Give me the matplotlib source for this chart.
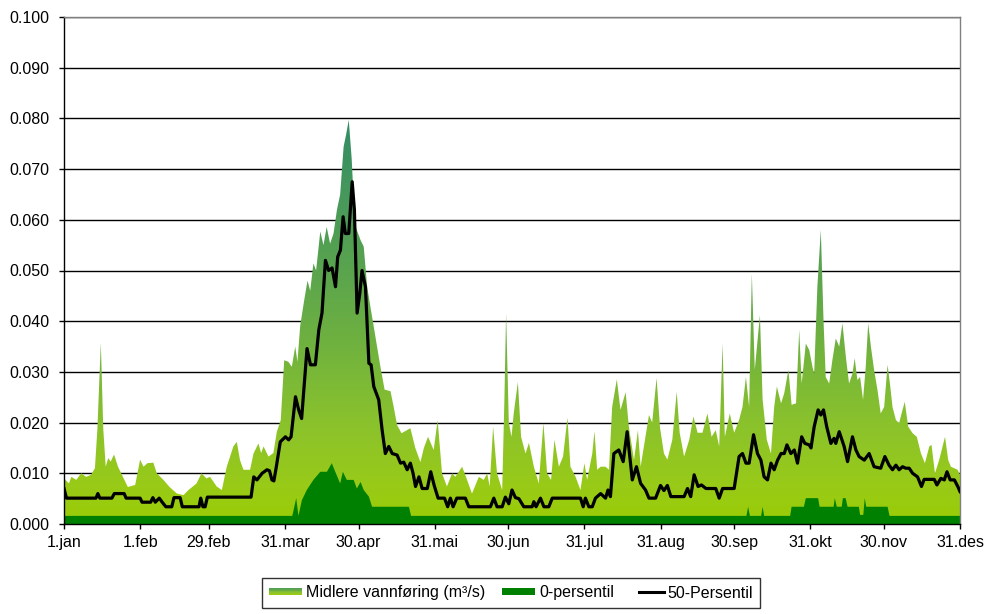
import numpy as np
import matplotlib
matplotlib.use("Agg")
import matplotlib.pyplot as plt
from matplotlib.colors import LinearSegmentedColormap
from matplotlib.legend_handler import HandlerBase
from matplotlib.patches import Rectangle, Patch
from matplotlib.lines import Line2D

plt.rcParams['font.family'] = ['Liberation Sans', 'DejaVu Sans']

# ---------------- data ----------------
tick_days = [0, 31, 59, 90, 120, 151, 181, 212, 243, 273, 304, 334, 365]
tick_labels = ["1.jan", "1.feb", "29.feb", "31.mar", "30.apr", "31.mai", "30.jun",
               "31.jul", "31.aug", "30.sep", "31.okt", "30.nov", "31.des"]

max_days = [0, 2, 3, 5, 7, 9, 11, 12.6, 13.6, 15, 16, 17, 18, 19, 20.4, 22, 24, 26, 29, 31,
            32.4, 34, 36.4, 37.8, 40.5, 43, 46, 48.7, 50.7, 54, 56, 58, 59.5, 62.2, 64.3, 66.3,
            69, 70.4, 71.7, 73.1, 75.8, 77.2, 79.2, 80.3, 81.3, 83.3, 85.3, 86.7, 88.3, 89.7,
            91.4, 92.8, 94.2, 95.1, 96.2, 97.8, 99.2, 100.3, 101.6, 102.7, 104.4, 105.7, 107,
            108.4, 109.8, 111.2, 112.5, 113.9, 115, 116, 117.2, 118.5, 120.8, 122.1, 123.5,
            124.8, 126.5, 128.9, 130.6, 133, 134.3, 135.7, 137.5, 139.7, 141.1, 143.1, 145.2,
            146.6, 148.3, 150.6, 152.2, 154, 156, 158.1, 159.4, 162.2, 164.2, 166.2, 169, 171,
            172.4, 173.4, 174.8, 176.4, 178.5, 179.4, 180.1, 181.2, 182.3, 183.2, 184.9, 186.2,
            188, 189.4, 191.4, 193.4, 195.3, 196.8, 198.4, 199.8, 201.6, 203.3, 205.1, 206.3,
            208.4, 210.4, 212, 213.1, 215.2, 216.1, 217.2, 218.6, 220.6, 222, 223.3, 225.2,
            226.7, 228.8, 230.1, 232.2, 233.8, 234.9, 238.3, 239.6, 241.4, 242.8, 244.4, 245.8,
            247.8, 249.6, 250.8, 252.6, 254.7, 256.4, 258.1, 260.1, 262.1, 263.8, 265.5, 266.9,
            268.3, 269.2, 271.2, 273, 275, 276.4, 277.8, 279.1, 280.2, 281.4, 283.5, 284.6,
            286.3, 288, 289.3, 290.4, 292.1, 293.4, 295.1, 296.4, 298.2, 299.5, 300.5, 302.2,
            303.6, 304.9, 305.6, 306.9, 308.3, 309.4, 310.3, 311.7, 313, 314.4, 315.8, 317.1,
            318.5, 319.8, 321.2, 322.1, 323.2, 324.3, 325.5, 326.6, 327.6, 328.7, 330, 331.4,
            332.7, 334.1, 335.5, 336.6, 337.5, 338.9, 340.2, 341.2, 342.5, 343.9, 345.7, 347.4,
            349.1, 350.7, 352.5, 353.4, 354.8, 356.5, 358.9, 360.2, 361.3, 364, 365]
max_vals = [0.0090, 0.0080, 0.0093, 0.0087, 0.0100, 0.0093, 0.0097, 0.0110, 0.0187, 0.0357,
            0.0187, 0.0113, 0.0130, 0.0123, 0.0137, 0.0113, 0.0093, 0.0073, 0.0077, 0.0127,
            0.0113, 0.0120, 0.0121, 0.0100, 0.0087, 0.0073, 0.0060, 0.0057, 0.0067, 0.0080,
            0.0100, 0.0090, 0.0093, 0.0074, 0.0067, 0.0113, 0.0153, 0.0162, 0.0126, 0.0107,
            0.0107, 0.0139, 0.0159, 0.0140, 0.0153, 0.0133, 0.0140, 0.0182, 0.0205, 0.0323,
            0.0320, 0.0310, 0.0350, 0.0320, 0.0390, 0.0440, 0.0480, 0.0460, 0.0514, 0.0500,
            0.0577, 0.0550, 0.0586, 0.0553, 0.0573, 0.0620, 0.0650, 0.0744, 0.0770, 0.0797,
            0.0720, 0.0590, 0.0560, 0.0547, 0.0468, 0.0429, 0.0380, 0.0310, 0.0265, 0.0262,
            0.0231, 0.0195, 0.0179, 0.0185, 0.0189, 0.0150, 0.0122, 0.0150, 0.0172, 0.0146,
            0.0205, 0.0100, 0.0074, 0.0100, 0.0093, 0.0113, 0.0087, 0.0060, 0.0093, 0.0087,
            0.0100, 0.0074, 0.0192, 0.0100, 0.0067, 0.0245, 0.0416, 0.0200, 0.0172, 0.0218,
            0.0280, 0.0172, 0.0139, 0.0160, 0.0113, 0.0080, 0.0199, 0.0100, 0.0087, 0.0166,
            0.0113, 0.0133, 0.0210, 0.0113, 0.0093, 0.0067, 0.0120, 0.0087, 0.0139, 0.0183,
            0.0107, 0.0113, 0.0113, 0.0107, 0.0231, 0.0285, 0.0225, 0.0260, 0.0192, 0.0126,
            0.0185, 0.0113, 0.0215, 0.0200, 0.0288, 0.0190, 0.0139, 0.0127, 0.0166, 0.0261,
            0.0180, 0.0133, 0.0166, 0.0212, 0.0180, 0.0180, 0.0218, 0.0172, 0.0185, 0.0153,
            0.0356, 0.0172, 0.0218, 0.0180, 0.0205, 0.0231, 0.0290, 0.0231, 0.0494, 0.0304,
            0.0412, 0.0245, 0.0166, 0.0139, 0.0231, 0.0271, 0.0238, 0.0258, 0.0304, 0.0235,
            0.0238, 0.0383, 0.0277, 0.0356, 0.0343, 0.0310, 0.0297, 0.0468, 0.0580, 0.0402,
            0.0290, 0.0277, 0.0323, 0.0366, 0.0350, 0.0396, 0.0330, 0.0277, 0.0297, 0.0327,
            0.0284, 0.0290, 0.0245, 0.0310, 0.0396, 0.0350, 0.0304, 0.0264, 0.0218, 0.0231,
            0.0314, 0.0271, 0.0231, 0.0205, 0.0199, 0.0218, 0.0241, 0.0192, 0.0179, 0.0172,
            0.0139, 0.0120, 0.0153, 0.0156, 0.0100, 0.0126, 0.0172, 0.0126, 0.0113, 0.0107,
            0.0097]

p0_days = [0, 93.0, 94.6, 95.5, 96.9, 98.9, 101.6, 104.4, 107.1, 109.1, 110.5, 112.5, 113.6,
           115.2, 118, 119.3, 120.8, 122.1, 124.2, 125.5, 140.5, 141.4, 278, 278.7, 279.4,
           284, 284.6, 285.2, 295.8, 296.4, 301.4, 302.2, 307.2, 307.8, 313.5, 314, 314.8,
           316.8, 317.3, 318.4, 319.2, 323.8, 324.3, 325.6, 326.2, 326.8, 335.5, 336.3, 365]
p0_vals = [0.0016, 0.0016, 0.0051, 0.0016, 0.0047, 0.0067, 0.0087, 0.0103, 0.0103, 0.0120,
           0.0103, 0.0080, 0.0103, 0.0087, 0.0087, 0.0070, 0.0083, 0.0067, 0.0054, 0.0034,
           0.0034, 0.0016, 0.0016, 0.0034, 0.0016, 0.0016, 0.0034, 0.0016, 0.0016, 0.0034,
           0.0034, 0.0051, 0.0051, 0.0034, 0.0034, 0.0051, 0.0034, 0.0034, 0.0051, 0.0051,
           0.0034, 0.0034, 0.0018, 0.0018, 0.0051, 0.0034, 0.0034, 0.0016, 0.0016]

p50_days = [0, 1, 13, 13.8, 14.6, 19.5, 20.5, 24.5, 25.3, 31, 31.8, 35.3, 36.2, 37.2, 38.8, 40,
            41.5, 43.9, 44.8, 47.3, 48.2, 55, 55.7, 56.6, 57.5, 58.4, 76.2, 77.3, 78.6, 80.7,
            82.7, 83.7, 84.7, 85.5, 86.5, 88.1, 90.2, 91.5, 92.5, 94.3, 95.6, 96.8, 99, 100.4,
            102.4, 103.8, 105.1, 106.5, 107.8, 109.2, 110.6, 111.5, 112.6, 113.7, 114.6, 116,
            117.4, 118.3, 119.4, 120.5, 121.4, 122.8, 124.2, 125.1, 126.2, 128.2, 129.6, 130.9,
            132.3, 133.7, 135.7, 137.1, 138.4, 139.8, 141.1, 142.2, 143.2, 144.6, 145.9, 148,
            149.4, 150.8, 152.4, 155, 156.3, 157.4, 158.5, 160, 163.5, 164.9, 173.7, 175.1,
            176.4, 178.5, 179.8, 181.2, 182.5, 183.9, 185.3, 187.3, 190.7, 191.4, 192.3, 194.1,
            195.5, 197.5, 198.9, 210.4, 211.5, 212.4, 213.8, 215.2, 216.5, 218.6, 220.6, 221.6,
            222.6, 224, 226, 227.8, 229.4, 230.5, 231.5, 233.2, 234.9, 236.9, 238.3, 241, 243,
            244.4, 245.8, 247.2, 252.6, 254, 255.3, 256.7, 258.3, 259.7, 261.5, 265.5, 266.9,
            268.3, 273, 275, 276.4, 277.8, 279.1, 280.9, 282.5, 283.9, 285.2, 286.6, 288, 289.3,
            290.7, 292.1, 293.4, 294.5, 296.1, 297.5, 298.8, 300.5, 301.8, 303.6, 304.3, 305.6,
            307.2, 308.3, 309.4, 310.7, 312.4, 313.7, 314.4, 315.8, 317.8, 319.2, 321.2, 322.6,
            323.9, 326, 328, 330, 332.7, 334.4, 336.1, 337.5, 338.9, 340.2, 341.6, 342.9, 344.3,
            345.7, 347.7, 349.3, 350.4, 354.5, 355.6, 357.2, 358.6, 359.7, 361, 362.7, 364.1, 365]
p50_vals = [0.0070, 0.0051, 0.0051, 0.0060, 0.0051, 0.0051, 0.0060, 0.0060, 0.0051, 0.0051,
            0.0043, 0.0043, 0.0052, 0.0043, 0.0051, 0.0043, 0.0034, 0.0034, 0.0052, 0.0052,
            0.0034, 0.0034, 0.0051, 0.0034, 0.0034, 0.0053, 0.0053, 0.0093, 0.0087, 0.0100,
            0.0107, 0.0105, 0.0087, 0.0085, 0.0113, 0.0162, 0.0172, 0.0166, 0.0172, 0.0251,
            0.0225, 0.0208, 0.0346, 0.0314, 0.0314, 0.0383, 0.0416, 0.0520, 0.0500, 0.0505,
            0.0468, 0.0527, 0.0540, 0.0606, 0.0573, 0.0573, 0.0675, 0.0620, 0.0416, 0.0455,
            0.0500, 0.0468, 0.0317, 0.0314, 0.0271, 0.0245, 0.0185, 0.0139, 0.0153, 0.0139,
            0.0136, 0.0120, 0.0122, 0.0107, 0.0120, 0.0100, 0.0074, 0.0093, 0.0070, 0.0070,
            0.0103, 0.0076, 0.0051, 0.0051, 0.0034, 0.0051, 0.0034, 0.0051, 0.0051, 0.0034,
            0.0034, 0.0051, 0.0034, 0.0034, 0.0053, 0.0040, 0.0067, 0.0052, 0.0050, 0.0034,
            0.0034, 0.0044, 0.0034, 0.0051, 0.0034, 0.0034, 0.0051, 0.0051, 0.0034, 0.0051,
            0.0034, 0.0034, 0.0051, 0.0060, 0.0051, 0.0067, 0.0054, 0.0139, 0.0146, 0.0123,
            0.0182, 0.0133, 0.0087, 0.0113, 0.0080, 0.0067, 0.0051, 0.0051, 0.0076, 0.0066,
            0.0076, 0.0054, 0.0054, 0.0070, 0.0054, 0.0097, 0.0074, 0.0077, 0.0070, 0.0070,
            0.0051, 0.0070, 0.0070, 0.0133, 0.0139, 0.0120, 0.0120, 0.0176, 0.0139, 0.0126,
            0.0093, 0.0087, 0.0120, 0.0107, 0.0126, 0.0139, 0.0139, 0.0156, 0.0139, 0.0146,
            0.0120, 0.0172, 0.0159, 0.0156, 0.0150, 0.0192, 0.0225, 0.0215, 0.0225, 0.0192,
            0.0159, 0.0169, 0.0159, 0.0182, 0.0153, 0.0123, 0.0172, 0.0146, 0.0133, 0.0126,
            0.0139, 0.0113, 0.0110, 0.0133, 0.0116, 0.0107, 0.0116, 0.0107, 0.0113, 0.0110,
            0.0110, 0.0100, 0.0093, 0.0074, 0.0088, 0.0088, 0.0077, 0.0090, 0.0087, 0.0103,
            0.0087, 0.0087, 0.0074, 0.0064]

legend_labels = ["Midlere vannføring (m³/s)", "0-persentil", "50-Persentil"]

# ---------------- styling ----------------
grad_stops = [(0.000, (155, 205, 5)), (0.008, (152, 202, 25)), (0.020, (138, 194, 45)),
              (0.035, (112, 178, 62)), (0.050, (90, 164, 78)), (0.065, (70, 152, 92)),
              (0.080, (50, 140, 100)), (0.100, (40, 130, 100))]
cmap = LinearSegmentedColormap.from_list(
    "grad", [(v / 0.1, tuple(c / 255 for c in rgb)) for v, rgb in grad_stops])
dark_green = "#008000"
FS = 11.5

fig = plt.figure(figsize=(9.98, 6.14), dpi=100)
ax = fig.add_axes([64 / 998, 1 - 524 / 614, (960 - 64) / 998, (524 - 17) / 614])

ax.set_axisbelow(True)
ax.yaxis.grid(True, color="black", linewidth=1.0)

# gradient area (max envelope)
poly = ax.fill_between(max_days, 0, max_vals, facecolor="none", edgecolor="none", zorder=1)
grad = np.linspace(0, 0.1, 512).reshape(-1, 1)
im = ax.imshow(grad, extent=[0, 365, 0, 0.1], origin="lower", aspect="auto",
               cmap=cmap, vmin=0, vmax=0.1, zorder=1, interpolation="bilinear")
im.set_clip_path(poly.get_paths()[0], transform=ax.transData)

# 0-persentil
ax.fill_between(p0_days, 0, p0_vals, facecolor=dark_green, edgecolor="none", zorder=2)

# 50-persentil
ax.plot(p50_days, p50_vals, color="black", linewidth=2.3, zorder=3,
        solid_joinstyle="round")

ax.set_xlim(0, 365)
ax.set_ylim(0, 0.1)
ax.set_yticks(np.arange(0, 0.1001, 0.01))
ax.set_yticklabels([f"{v:.3f}" for v in np.arange(0, 0.1001, 0.01)])
ax.set_xticks(tick_days)
ax.set_xticklabels(tick_labels)
ax.tick_params(axis="both", direction="out", length=3.6, width=1, color="black",
               labelsize=FS, labelcolor="black")
ax.tick_params(axis="y", pad=7)
ax.tick_params(axis="x", pad=4)

for s in ["left", "bottom"]:
    ax.spines[s].set_color("black")
    ax.spines[s].set_linewidth(1.0)
for s in ["top", "right"]:
    ax.spines[s].set_color("#808080")
    ax.spines[s].set_linewidth(1.0)


class BandHandler(HandlerBase):
    def __init__(self, colors, hfrac=0.55):
        super().__init__()
        self.colors = colors
        self.hfrac = hfrac

    def create_artists(self, legend, orig_handle, xdescent, ydescent, width, height,
                       fontsize, trans):
        n = len(self.colors)
        h = height * self.hfrac
        y0 = -ydescent + (height - h) / 2
        arts = []
        for i, c in enumerate(self.colors):
            r = Rectangle((-xdescent, y0 + h * (n - 1 - i) / n), width, h / n + 0.3,
                          facecolor=c, edgecolor="none", transform=trans)
            arts.append(r)
        return arts


class ShortLineHandler(HandlerBase):
    def create_artists(self, legend, orig_handle, xdescent, ydescent, width, height,
                       fontsize, trans):
        y = -ydescent + height / 2
        ln = Line2D([-xdescent + width * 0.28, -xdescent + width], [y, y],
                    color="black", linewidth=2.2, transform=trans)
        return [ln]


h_grad = Patch(label=legend_labels[0])
h_p0 = Patch(label=legend_labels[1])
h_p50 = Line2D([], [], color="black", linewidth=2.2, label=legend_labels[2])
grad_cols = [cmap(v) for v in np.linspace(0.55, 0.05, 8)]
leg = fig.legend(handles=[h_grad, h_p0, h_p50], labels=legend_labels,
                 handler_map={h_grad: BandHandler(grad_cols), h_p0: BandHandler([dark_green]),
                              h_p50: ShortLineHandler()},
                 loc="center", bbox_to_anchor=(511 / 998, 1 - 593 / 614), ncol=3,
                 fontsize=FS, frameon=True, fancybox=False, edgecolor="black",
                 handlelength=2.1, handletextpad=0.25, columnspacing=1.0,
                 borderpad=0.45, borderaxespad=0)
leg.get_frame().set_linewidth(1.0)

fig.savefig("out.png", dpi=100)
